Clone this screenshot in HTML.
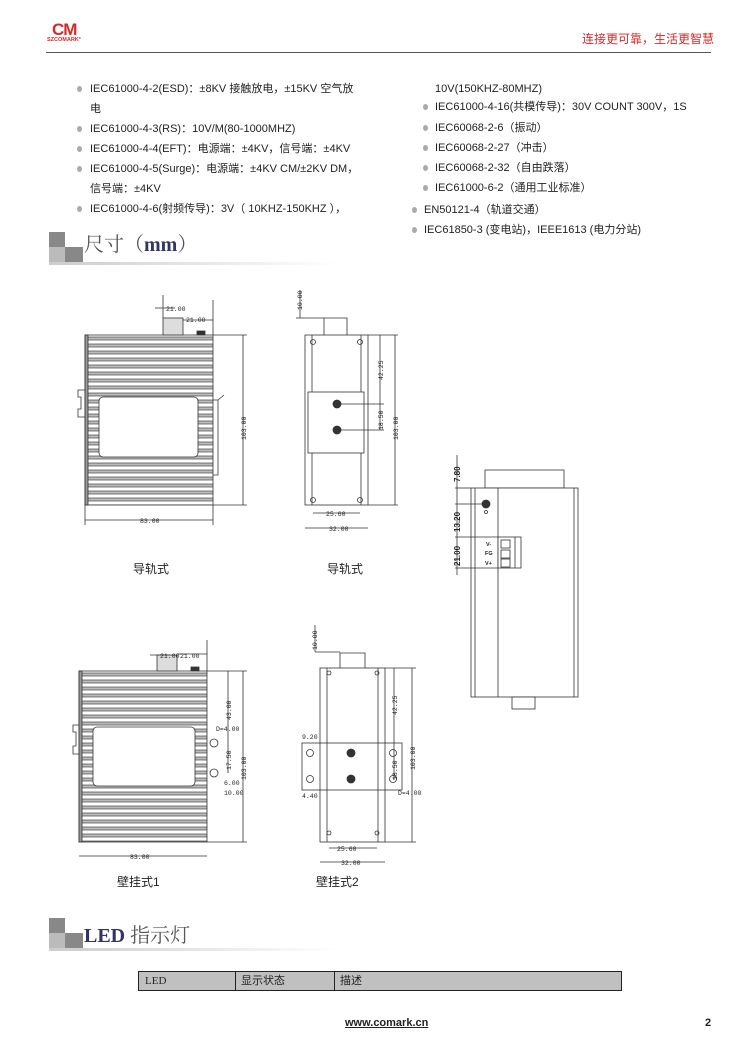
<!DOCTYPE html>
<html><head><meta charset="utf-8"><style>
body{margin:0;background:#fff;}
#p{position:relative;width:750px;height:1061px;overflow:hidden;font-family:"Liberation Sans","Noto Sans CJK SC",sans-serif;color:#222;}
.t{position:absolute;font-size:11px;white-space:nowrap;line-height:14px;}
.b{position:absolute;width:5px;height:6px;border-radius:50%;background:#aaa;}
</style></head><body><div id="p">
<div class="t" style="left:52px;top:21px;font:bold 17px 'Liberation Sans',sans-serif;color:#d42a2a;letter-spacing:-1px;line-height:17px">CM</div>
<div class="t" style="left:47px;top:37px;font:bold 5.5px 'Liberation Sans',sans-serif;color:#d42a2a;line-height:7px">SZCOMARK°</div>
<div class="t" style="left:582px;top:32px;font-size:12px;color:#d42a2a">连接更可靠，生活更智慧</div>
<div style="position:absolute;left:46px;top:52px;width:665px;height:1px;background:#555"></div>

<div class="b" style="left:77px;top:86px"></div><div class="t" style="left:90px;top:82px">IEC61000-4-2(ESD)：±8KV 接触放电，±15KV 空气放</div>
<div class="t" style="left:90px;top:102px">电</div>
<div class="b" style="left:77px;top:126px"></div><div class="t" style="left:90px;top:122px">IEC61000-4-3(RS)：10V/M(80-1000MHZ)</div>
<div class="b" style="left:77px;top:146px"></div><div class="t" style="left:90px;top:142px">IEC61000-4-4(EFT)：电源端：±4KV，信号端：±4KV</div>
<div class="b" style="left:77px;top:166px"></div><div class="t" style="left:90px;top:162px">IEC61000-4-5(Surge)：电源端：±4KV CM/±2KV DM，</div>
<div class="t" style="left:90px;top:182px">信号端：±4KV</div>
<div class="b" style="left:77px;top:206px"></div><div class="t" style="left:90px;top:202px">IEC61000-4-6(射频传导)：3V（ 10KHZ-150KHZ ），</div>

<div class="t" style="left:435px;top:82px">10V(150KHZ-80MHZ)</div>
<div class="b" style="left:423px;top:104px"></div><div class="t" style="left:435px;top:100px">IEC61000-4-16(共模传导)：30V COUNT 300V，1S</div>
<div class="b" style="left:423px;top:125px"></div><div class="t" style="left:435px;top:121px">IEC60068-2-6（振动）</div>
<div class="b" style="left:423px;top:145px"></div><div class="t" style="left:435px;top:141px">IEC60068-2-27（冲击）</div>
<div class="b" style="left:423px;top:165px"></div><div class="t" style="left:435px;top:161px">IEC60068-2-32（自由跌落）</div>
<div class="b" style="left:423px;top:185px"></div><div class="t" style="left:435px;top:181px">IEC61000-6-2（通用工业标准）</div>
<div class="b" style="left:412px;top:207px"></div><div class="t" style="left:424px;top:203px">EN50121-4（轨道交通）</div>
<div class="b" style="left:412px;top:227px"></div><div class="t" style="left:424px;top:223px">IEC61850-3 (变电站)，IEEE1613 (电力分站)</div>

<div class="t" style="left:84px;top:233px;font:20px 'Liberation Serif','Noto Serif CJK SC',serif;color:#555;line-height:24px">尺寸（<b style="color:#333366">mm</b>）</div>
<div class="t" style="left:84px;top:924px;font:20px 'Liberation Serif','Noto Serif CJK SC',serif;color:#555;line-height:24px"><b style="color:#333366">LED</b> 指示灯</div>

<svg style="position:absolute;left:0;top:0" width="750" height="1061" font-family="Liberation Sans, sans-serif">
<defs>
<pattern id="fin" x="0" y="0" width="10" height="7" patternUnits="userSpaceOnUse"><rect width="10" height="7" fill="#fff"/><rect y="1" width="10" height="3" fill="#bbb"/><line x1="0" y1="1" x2="10" y2="1" stroke="#444" stroke-width=".7"/><line x1="0" y1="4" x2="10" y2="4" stroke="#444" stroke-width=".7"/></pattern>
<linearGradient id="hg" x1="0" x2="1"><stop offset="0" stop-color="#ccc"/><stop offset="1" stop-color="#fff"/></linearGradient>
</defs>
<!-- heading squares -->
<rect x="49" y="232" width="16" height="15" fill="#888"/><rect x="49" y="247" width="16" height="15" fill="#bbb"/><rect x="65" y="247" width="18" height="15" fill="#888"/>
<rect x="49" y="262" width="290" height="3" fill="url(#hg)"/>
<rect x="49" y="918" width="16" height="15" fill="#888"/><rect x="49" y="933" width="16" height="15" fill="#bbb"/><rect x="65" y="933" width="18" height="15" fill="#888"/>
<rect x="49" y="948" width="290" height="3" fill="url(#hg)"/>

<g stroke="#333" stroke-width=".8" fill="none" font-size="6.5" >
<!-- D1 -->
<rect x="85" y="335" width="128" height="170" fill="url(#fin)"/>
<rect x="85" y="335" width="3" height="170" fill="#999"/>
<rect x="99" y="397" width="99" height="60" rx="4" fill="#fff"/>
<rect x="163" y="318" width="20" height="17" fill="#ddd"/>
<rect x="197" y="331" width="8" height="4" fill="#333"/>
<path d="M85 390h-7v7h3v12h-3v8h7"/><path d="M213 400h5v75h-5M218 400l6-5"/>
<line x1="243" y1="335" x2="243" y2="505"/><line x1="213" y1="335" x2="247" y2="335"/><line x1="213" y1="505" x2="247" y2="505"/>
<line x1="85" y1="520" x2="213" y2="520"/><line x1="85" y1="505" x2="85" y2="525"/><line x1="213" y1="505" x2="213" y2="525"/>
<line x1="155" y1="308" x2="175" y2="308"/><line x1="183" y1="320" x2="213" y2="320"/><line x1="213" y1="300" x2="213" y2="335"/><line x1="163" y1="295" x2="163" y2="318"/>
<!-- D2 -->
<rect x="305" y="335" width="63" height="170" fill="#fff"/>
<line x1="312" y1="335" x2="312" y2="505"/><line x1="361" y1="335" x2="361" y2="505"/>
<rect x="308" y="392" width="56" height="61" fill="#fff"/>
<circle cx="337" cy="404" r="4" fill="#333"/><circle cx="337" cy="430" r="4" fill="#333"/>
<circle cx="313" cy="342" r="2.5"/><circle cx="360" cy="342" r="2.5"/><circle cx="313" cy="500" r="2.5"/><circle cx="360" cy="500" r="2.5"/>
<path d="M324 335v-17h23v17M296 318h28"/>
<line x1="395" y1="335" x2="395" y2="505"/><line x1="368" y1="335" x2="398" y2="335"/><line x1="368" y1="505" x2="398" y2="505"/>
<line x1="380" y1="335" x2="380" y2="430"/><line x1="337" y1="404" x2="384" y2="404"/><line x1="337" y1="430" x2="384" y2="430"/>
<line x1="313" y1="513" x2="360" y2="513"/><line x1="305" y1="528" x2="368" y2="528"/>
<line x1="300" y1="290" x2="300" y2="318"/>
<!-- D3 -->
<rect x="79" y="671" width="128" height="171" fill="url(#fin)"/>
<rect x="79" y="671" width="3" height="171" fill="#999"/>
<rect x="93" y="727" width="102" height="59" rx="4" fill="#fff"/>
<rect x="157" y="655" width="20" height="16" fill="#ddd"/>
<rect x="191" y="667" width="8" height="4" fill="#333"/>
<path d="M79 725h-6v7h3v14h-3v8h6"/>
<circle cx="214" cy="743" r="4"/><circle cx="214" cy="773" r="4"/>
<line x1="243" y1="671" x2="243" y2="842"/><line x1="207" y1="671" x2="247" y2="671"/><line x1="207" y1="842" x2="247" y2="842"/>
<line x1="228" y1="671" x2="228" y2="773"/><line x1="79" y1="856" x2="207" y2="856"/>
<line x1="150" y1="655" x2="170" y2="655"/><line x1="177" y1="654" x2="207" y2="654"/><line x1="207" y1="640" x2="207" y2="671"/>
<!-- D4 -->
<rect x="320" y="668" width="65" height="174" fill="#fff"/>
<line x1="327" y1="668" x2="327" y2="842"/><line x1="378" y1="668" x2="378" y2="842"/>
<rect x="302" y="743" width="100" height="47" fill="none"/>
<circle cx="351" cy="753" r="4" fill="#333"/><circle cx="351" cy="779" r="4" fill="#333"/>
<circle cx="310" cy="753" r="3.5"/><circle cx="310" cy="779" r="3.5"/><circle cx="393" cy="753" r="3.5"/><circle cx="393" cy="779" r="3.5"/>
<circle cx="329" cy="673" r="2"/><circle cx="377" cy="673" r="2"/><circle cx="329" cy="833" r="2"/><circle cx="377" cy="833" r="2"/>
<path d="M340 668v-15h25v15M315 652h25"/>
<line x1="412" y1="668" x2="412" y2="842"/><line x1="385" y1="668" x2="416" y2="668"/><line x1="385" y1="842" x2="416" y2="842"/>
<line x1="394" y1="668" x2="394" y2="780"/>
<line x1="329" y1="848" x2="377" y2="848"/><line x1="320" y1="862" x2="385" y2="862"/>
<line x1="315" y1="625" x2="315" y2="652"/>
<!-- D5 -->
<rect x="485" y="470" width="79" height="18" fill="#fff"/>
<rect x="471" y="488" width="107" height="209" fill="#fff"/>
<line x1="475" y1="488" x2="475" y2="697"/><line x1="498" y1="488" x2="498" y2="697"/><line x1="574" y1="488" x2="574" y2="697"/>
<rect x="512" y="697" width="23" height="12" fill="#fff"/>
<rect x="498" y="537" width="23" height="31" fill="#fff"/><line x1="515" y1="537" x2="515" y2="568"/>
<rect x="501" y="540" width="9" height="8"/><rect x="501" y="550" width="9" height="8"/><rect x="501" y="559" width="9" height="8"/>
<circle cx="486" cy="504" r="4" fill="#333"/><circle cx="486" cy="512" r="1.5"/>
<line x1="455" y1="488" x2="471" y2="488"/><line x1="455" y1="504" x2="482" y2="504"/><line x1="455" y1="537" x2="498" y2="537"/><line x1="455" y1="568" x2="498" y2="568"/>
<line x1="457" y1="455" x2="457" y2="575"/>
</g>
<g font-size="6.5" fill="#222" font-family="Liberation Mono, monospace">
<text x="166" y="311">21.00</text><text x="186" y="322">21.00</text>
<text transform="translate(246,440) rotate(-90)">103.00</text>
<text x="140" y="523">83.00</text>
<text transform="translate(302,310) rotate(-90)">10.00</text>
<text transform="translate(383,380) rotate(-90)">42.25</text>
<text transform="translate(383,430) rotate(-90)">18.50</text>
<text transform="translate(398,440) rotate(-90)">103.00</text>
<text x="326" y="516">25.60</text><text x="329" y="531">32.00</text>
<text x="160" y="658">21.00</text><text x="180" y="658">21.00</text>
<text transform="translate(231,720) rotate(-90)">43.00</text>
<text transform="translate(231,770) rotate(-90)">17.50</text>
<text x="216" y="731">D=4.00</text><text x="224" y="785">6.00</text><text x="224" y="795">10.00</text>
<text transform="translate(246,780) rotate(-90)">103.00</text>
<text x="130" y="859">83.00</text>
<text transform="translate(317,650) rotate(-90)">10.00</text>
<text transform="translate(397,715) rotate(-90)">42.25</text>
<text transform="translate(397,780) rotate(-90)">18.50</text>
<text transform="translate(415,770) rotate(-90)">103.00</text>
<text x="302" y="739">9.20</text><text x="302" y="798">4.40</text><text x="398" y="795">D=4.00</text>
<text x="337" y="851">25.60</text><text x="341" y="865">32.00</text>
<g font-size="8" font-weight="bold" font-family="Liberation Sans, sans-serif">
<text transform="translate(460,482) rotate(-90)">7.80</text>
<text transform="translate(460,532) rotate(-90)">13.20</text>
<text transform="translate(460,566) rotate(-90)">21.00</text>
</g>
<g font-size="5.5" font-weight="bold" font-family="Liberation Sans, sans-serif"><text x="486" y="546">V-</text><text x="485" y="555">FG</text><text x="485" y="565">V+</text></g>
</g>
</svg>

<div class="t" style="left:133px;top:562px;font-size:12px">导轨式</div>
<div class="t" style="left:327px;top:562px;font-size:12px">导轨式</div>
<div class="t" style="left:117px;top:875px;font-size:12px">壁挂式1</div>
<div class="t" style="left:316px;top:875px;font-size:12px">壁挂式2</div>

<div style="position:absolute;left:138px;top:971px;width:482px;height:18px;border:1px solid #222;background:#c0c0c0;font-size:11px;line-height:18px">
<span style="position:absolute;left:6px;font-family:'Liberation Serif',serif">LED</span>
<span style="position:absolute;left:96px;top:0;height:18px;border-left:1px solid #222;padding-left:5px">显示状态</span>
<span style="position:absolute;left:195px;top:0;height:18px;border-left:1px solid #222;padding-left:5px">描述</span>
</div>
<div class="t" style="left:345px;top:1016px;font-size:11px;font-weight:bold;text-decoration:underline">www.comark.cn</div>
<div class="t" style="left:705px;top:1016px;font-size:11px;font-weight:bold">2</div>
</div></body></html>
